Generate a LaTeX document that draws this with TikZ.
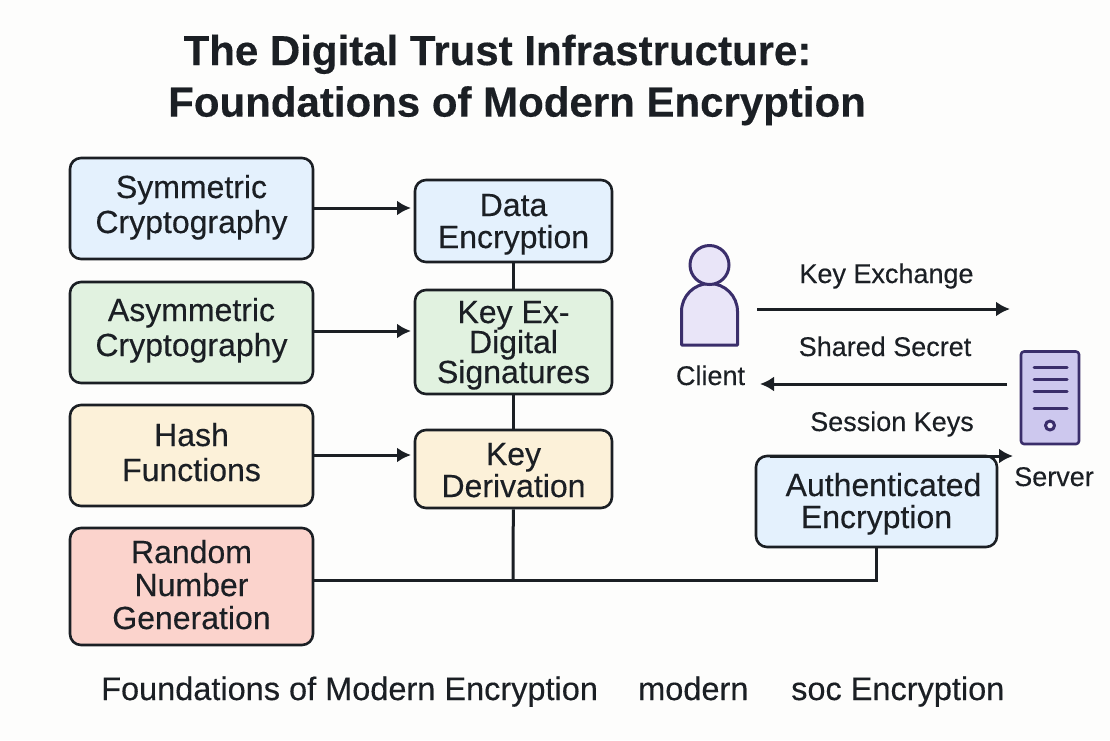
\documentclass[tikz,border=0pt]{standalone}
\usepackage{fontspec}
\setmainfont[FakeBold=0.3]{Liberation Sans}
\usetikzlibrary{arrows.meta,positioning}
\definecolor{paper}{HTML}{FDFDFC}
\definecolor{ink}{HTML}{1B1F24}
\definecolor{bluefill}{HTML}{E4F1FD}
\definecolor{greenfill}{HTML}{E1F2E0}
\definecolor{yellowfill}{HTML}{FCF1D9}
\definecolor{redfill}{HTML}{FBD3CC}
\definecolor{iconline}{HTML}{3A2E6B}
\definecolor{clientfill}{HTML}{E9E5F8}
\definecolor{serverfill}{HTML}{CDC8EE}

\begin{document}
\begin{tikzpicture}[
    x=1pt,
    y=-1pt,
    >={Latex[length=14pt,width=15pt]},
    box/.style={
        draw=ink,
        line width=2.6pt,
        rectangle,
        rounded corners=11pt,
        align=center,
        text=ink,
        font=\fontsize{32}{33}\selectfont,
        inner sep=0pt,
        text depth=0pt
    },
    leftbox/.style={
        box,
        minimum width=243pt
    },
    midbox/.style={
        box,
        minimum width=197pt
    },
    link/.style={draw=ink, line width=3pt},
    label/.style={text=ink, font=\fontsize{27}{30}\selectfont, inner sep=0pt},
    footer/.style={text=ink, anchor=base west, inner sep=0pt, font=\fontsize{32.5}{36}\selectfont},
    icon/.style={draw=iconline, line width=3pt, line join=round}
]

\useasboundingbox[fill=paper] (0,0) rectangle (1110,740);

\node[text=ink, align=center, inner sep=0pt, font=\fontsize{42}{51.5}\selectfont\bfseries] (title) at (517,80)
    {The Digital Trust Infrastructure:\hspace*{39pt}\\Foundations of Modern Encryption};

% left column
\node[leftbox, fill=bluefill, minimum height=101pt, text height=49pt, font=\fontsize{32}{35}\selectfont] (symmetric) at (191.5,208.5) {Symmetric\\Cryptography};
\node[leftbox, fill=greenfill, minimum height=101pt, text height=47pt, font=\fontsize{32}{35}\selectfont] (asymmetric) at (191.5,332.5) {Asymmetric\\Cryptography};
\node[leftbox, fill=yellowfill, minimum height=101pt, text height=51pt, font=\fontsize{32}{35}\selectfont] (hash) at (191.5,455.5) {Hash\\Functions};
\node[leftbox, fill=redfill, minimum height=117pt, text height=85pt] (random) at (191.5,586.5) {Random\\Number\\Generation};

% middle column
\node[midbox, fill=bluefill, minimum height=82pt, text height=54pt, font=\fontsize{32}{32}\selectfont] (data) at (513.5,221) {Data\\Encryption};
\node[midbox, fill=greenfill, minimum height=104pt, text height=82pt, font=\fontsize{32}{30}\selectfont] (keyex) at (513.5,342) {Key Ex-\\Digital\\Signatures};
\node[midbox, fill=yellowfill, minimum height=78pt, text height=56pt, font=\fontsize{32}{32}\selectfont] (derivation) at (513.5,469) {Key\\Derivation};

% right side
\node[box, fill=bluefill, minimum width=241pt, minimum height=91pt, text height=53pt, font=\fontsize{32}{32}\selectfont] (authenc) at (876.5,501.5) {\hspace*{14pt}Authenticated\\Encryption};

\coordinate (junction) at (513,580);
\coordinate (clientout) at (757,309);
\coordinate (serverin) at (1010,309);
\coordinate (serverout) at (1007,384);
\coordinate (clientin) at (760,384);
\coordinate (sessionstart) at (770,456);
\coordinate (sessionend) at (1013,456);

% client icon
\draw[icon, fill=clientfill] (681.5,345) -- (681.5,311.5) arc[start angle=180, end angle=360, radius=28] -- (737.5,345) -- cycle;
\draw[icon, fill=clientfill] (709.5,265) circle[radius=19.5];
\node[label, anchor=base] (client) at (710.5,385) {Client};

% server icon
\draw[icon, fill=serverfill, rounded corners=3pt, line width=2.6pt] (1021,351.5) rectangle (1079,444);
\foreach \liney in {367,379,391,408} {
    \draw[icon, line cap=round] (1034,\liney) -- (1067,\liney);
}
\draw[icon, fill=clientfill] (1050,425.5) circle[radius=4.5];
\node[label, anchor=base] (server) at (1054,486) {Server};

% connectors
\draw[link, ->] (symmetric.east |- 0,208) -- (411,208);
\draw[link, ->] (asymmetric.east |- 0,331) -- (411,331);
\draw[link, ->] (hash.east |- 0,455) -- (411,455);
\draw[link] (data) -- (keyex);
\draw[link] (keyex) -- (derivation);
\draw[link] (derivation) -- (junction);
\draw[link] (random.east |- junction) -- (junction) -| (authenc.south);

\draw[link, ->] (clientout) -- (serverin);
\draw[link, ->] (serverout) -- (clientin);
\draw[link, ->] (sessionstart) -- (sessionend);

\node[label, anchor=base] (keyexchange) at (886.5,283) {Key Exchange};
\node[label, anchor=base] (sharedsecret) at (885,356) {Shared Secret};
\node[label, anchor=base] (sessionkeys) at (892,431) {Session Keys};

\node[footer] (footleft) at (101,700) {Foundations of Modern Encryption};
\node[footer] (footmid) at (638,700) {modern};
\node[footer] (footright) at (791,700) {soc Encryption};

\end{tikzpicture}
\end{document}
